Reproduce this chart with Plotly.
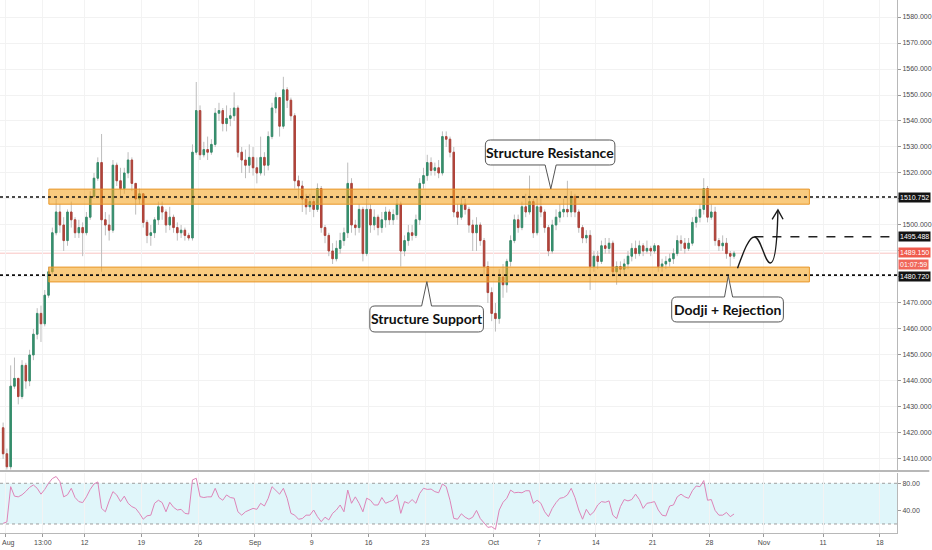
import plotly.graph_objects as go

# ---------------- data (XAU/USD) ----------------
first_open = 1422
closes = [1412, 1407, 1438, 1441, 1434, 1446, 1440, 1450, 1458, 1466,
          1462, 1473, 1482, 1497, 1505, 1500, 1494, 1505, 1502, 1497,
          1499, 1497, 1503, 1511, 1518, 1524, 1502, 1500, 1498, 1523,
          1517, 1514, 1520, 1525, 1516, 1510, 1512, 1501, 1496, 1497,
          1502, 1507, 1505, 1500, 1503, 1499, 1497, 1498, 1496, 1495,
          1528, 1544, 1527, 1529, 1528, 1531, 1543, 1544, 1539, 1541,
          1542, 1545, 1528, 1525, 1523, 1526, 1522, 1520, 1526, 1523,
          1534, 1545, 1549, 1538, 1552, 1548, 1542, 1517, 1515, 1510,
          1507, 1509, 1506, 1514, 1499, 1496, 1490, 1487, 1491, 1494,
          1497, 1516, 1500, 1499, 1506, 1489, 1506, 1500, 1503, 1499,
          1502, 1505, 1502, 1504, 1508, 1490, 1494, 1497, 1496, 1502,
          1516, 1519, 1524, 1521, 1522, 1520, 1534, 1533, 1528, 1505,
          1503, 1508, 1506, 1500, 1497, 1500, 1494, 1484, 1474, 1466,
          1464, 1480, 1477, 1486, 1494, 1502, 1499, 1507, 1505, 1509,
          1497, 1507, 1505, 1499, 1490, 1500, 1503, 1505, 1506, 1505,
          1511, 1505, 1499, 1495, 1496, 1484, 1488, 1486, 1492, 1491,
          1493, 1482, 1484, 1483, 1485, 1488, 1491, 1489, 1492, 1490,
          1491, 1490, 1492, 1484, 1485, 1486, 1487, 1489, 1494, 1493,
          1491, 1493, 1501, 1503, 1506, 1514, 1503, 1505, 1494, 1492,
          1493, 1489, 1488, 1489.15]
highs = [1424, 1414, 1446, 1449, 1440, 1448, 1447, 1452, 1460, 1468,
         1469, 1475, 1484, 1499, 1510, 1508, 1503, 1506, 1509, 1503,
         1502, 1501, 1505, 1513, 1520, 1526, 1535, 1505, 1504, 1525,
         1524, 1522, 1522, 1528, 1526, 1516, 1514, 1512, 1502, 1500,
         1503, 1509, 1509, 1506, 1507, 1504, 1501, 1500, 1499, 1497,
         1531, 1555, 1546, 1532, 1534, 1533, 1545, 1547, 1545, 1546,
         1545, 1551, 1546, 1530, 1529, 1531, 1530, 1526, 1534, 1528,
         1536, 1547, 1551, 1549, 1557, 1553, 1549, 1543, 1519, 1517,
         1512, 1512, 1510, 1516, 1515, 1500, 1497, 1493, 1494, 1497,
         1499, 1524, 1518, 1502, 1508, 1507, 1510, 1508, 1506, 1504,
         1505, 1507, 1506, 1506, 1510, 1509, 1496, 1500, 1500, 1504,
         1518, 1522, 1527, 1526, 1524, 1525, 1536, 1536, 1534, 1530,
         1508, 1511, 1510, 1507, 1502, 1503, 1501, 1495, 1486, 1476,
         1470, 1483, 1485, 1487, 1496, 1504, 1504, 1509, 1512, 1519,
         1510, 1511, 1512, 1506, 1500, 1502, 1506, 1508, 1510, 1517,
         1513, 1512, 1506, 1500, 1498, 1498, 1490, 1490, 1494, 1495,
         1495, 1494, 1486, 1486, 1487, 1490, 1493, 1494, 1494, 1493,
         1494, 1492, 1493, 1492, 1487, 1488, 1489, 1491, 1496, 1496,
         1495, 1495, 1503, 1506, 1508, 1518, 1515, 1508, 1507, 1495,
         1496, 1495, 1490, 1490]
lows = [1410, 1404.5, 1405, 1437, 1431, 1433, 1437, 1438, 1448, 1456,
        1455, 1461, 1472, 1481, 1496, 1497, 1490, 1492, 1499, 1495,
        1495, 1488, 1496, 1502, 1510, 1517, 1482, 1496, 1494, 1497,
        1515, 1511, 1512, 1518, 1513, 1504, 1508, 1499, 1493, 1492,
        1495, 1500, 1502, 1497, 1498, 1497, 1494, 1495, 1494, 1494,
        1494, 1527, 1525, 1526, 1525, 1527, 1530, 1540, 1536, 1536,
        1538, 1540, 1526, 1520, 1518, 1520, 1519, 1516, 1519, 1519,
        1521, 1533, 1543, 1534, 1537, 1545, 1540, 1514, 1510, 1505,
        1504, 1505, 1503, 1505, 1497, 1493, 1488, 1485, 1486, 1489,
        1492, 1495, 1497, 1496, 1497, 1486, 1488, 1497, 1498, 1496,
        1497, 1499, 1500, 1500, 1502, 1484, 1488, 1492, 1494, 1495,
        1500, 1514, 1517, 1519, 1519, 1518, 1519, 1530, 1526, 1503,
        1500, 1502, 1504, 1497, 1490, 1490, 1492, 1481, 1470, 1463,
        1459, 1462, 1472, 1474, 1484, 1493, 1497, 1498, 1503, 1504,
        1495, 1496, 1503, 1497, 1488, 1489, 1498, 1501, 1503, 1503,
        1503, 1503, 1497, 1493, 1493, 1475, 1482, 1483, 1485, 1489,
        1489, 1480, 1477, 1480, 1481, 1483, 1486, 1487, 1488, 1488,
        1489, 1488, 1489, 1482, 1482, 1483, 1484, 1485, 1488, 1490,
        1489, 1490, 1492, 1499, 1501, 1504, 1501, 1502, 1492, 1490,
        1490, 1487, 1484, 1487]
rsi = [21, 23, 75, 61, 60, 63, 68, 74, 77.5, 72.6,
       64, 71, 80, 87, 90, 82.5, 60, 63, 72.6, 59,
       53, 51.5, 60, 71, 79, 82, 43, 38, 54, 67.7,
       62.8, 53, 61, 50.5, 45.6, 43, 35.7, 27, 32, 33,
       50.5, 55, 51.5, 38, 52, 44.6, 40.6, 41.6, 35.7, 34.7,
       85, 87.4, 60.3, 59, 60, 60, 72.6, 59, 55, 62.8,
       59, 58, 38, 33, 38, 40.6, 43, 41.6, 50.5, 46.5,
       57.9, 75, 70, 64, 72.6, 58, 35.7, 33, 27, 28,
       33, 33, 40.6, 30.8, 23.4, 30, 26, 35.7, 40.6, 48,
       38, 70, 50.5, 60, 50.5, 38, 58, 55, 48, 48,
       59, 50.5, 53, 55, 63, 35.7, 53, 50.5, 56, 50.5,
       65, 72.6, 71, 71.5, 67.7, 66, 79, 75, 55, 28.3,
       27, 35, 30, 27, 30, 40, 28, 21, 15, 16,
       12, 40.6, 52, 57.9, 70, 66, 66.7, 66, 69, 69,
       50.5, 55, 50.5, 38, 30.8, 43, 51.5, 57.9, 59, 62.8,
       72.6, 59, 40.6, 27, 41.6, 33, 38, 48, 53, 52,
       54, 33, 28, 45.6, 56, 54, 56, 64, 56, 43,
       50.5, 51.5, 53, 40.6, 33, 31.8, 46.5, 48, 60, 64,
       60, 57.9, 69, 76, 75, 84, 55, 56, 40, 33,
       33, 37, 30.8, 34.7]

# key levels
resistance_level = 1510.752
support_level = 1480.720
target_level = 1495.488
last_price = 1489.15
timer_text = "01:07:59"

# time axis (trading-day index, 0 = 1 Aug)
date_tickvals = [0, 3.33, 7, 12, 17, 22, 27, 32, 37, 43, 47, 52, 57, 62, 66.8, 72, 77]
date_ticktext = ["", "13:00", "12", "19", "26", "Sep", "9", "16", "23",
                 "Oct", "7", "14", "21", "28", "Nov", "11", "18"]
first_month_label = "Aug"
price_ticks = list(range(1410, 1590, 10))
hidden_price_ticks = [1480, 1490, 1510]   # covered by the price tags in the reference

# ---------------- derived ----------------
n = len(closes)
xs = [(i - 0.5) / 3 for i in range(n)]
opens = [first_open] + closes[:-1]
hi = [max(h, o, c) for h, o, c in zip(highs, opens, closes)]
lo = [min(l, o, c) for l, o, c in zip(lows, opens, closes)]
body_hi = [max(o, c) for o, c in zip(opens, closes)]
body_lo = [min(o, c) for o, c in zip(opens, closes)]
price_ticktext = ["" if v in hidden_price_ticks else f"{v:.3f}" for v in price_ticks]

GREEN = "#358e6c"
RED = "#b0433a"
WICK = "#bdbdbd"
X_MIN, X_MAX = -0.44, 78.51

fig = go.Figure()

# wicks
fig.add_trace(go.Candlestick(
    x=xs, open=opens, high=hi, low=lo, close=closes,
    increasing=dict(line=dict(color=WICK, width=1), fillcolor=WICK),
    decreasing=dict(line=dict(color=WICK, width=1), fillcolor=WICK),
    whiskerwidth=0, hoverinfo="skip", showlegend=False, xaxis="x", yaxis="y"))
# bodies
fig.add_trace(go.Candlestick(
    x=xs, open=opens, high=body_hi, low=body_lo, close=closes,
    increasing=dict(line=dict(color=GREEN, width=1), fillcolor=GREEN),
    decreasing=dict(line=dict(color=RED, width=1), fillcolor=RED),
    whiskerwidth=0, hoverinfo="skip", showlegend=False, xaxis="x", yaxis="y"))

# RSI
fig.add_trace(go.Scatter(x=xs, y=rsi, mode="lines",
                         line=dict(color="#dd84b8", width=1),
                         hoverinfo="skip", showlegend=False, xaxis="x", yaxis="y2"))

# ---------------- drawings ----------------
band_x0, band_x1 = 3.86, 70.8
res_band = (1508.0, 1513.8)
sup_band = (1478.1, 1483.8)

# curved projection path and arrow head
curve_path = ("M 64.47,1483.35 C 64.95,1489 65.45,1495.4 65.96,1495.38 "
              "C 66.55,1495.4 66.85,1485.4 67.37,1485.38 "
              "C 67.8,1485.4 67.97,1494 68.03,1505.6")
arrow_path = "M 67.52,1502.2 L 68.03,1505.77 L 68.48,1502.2"

shapes = []
# RSI band
shapes.append(dict(type="rect", xref="paper", x0=0, x1=1, yref="y2", y0=20, y1=80,
                   fillcolor="#e0f6fa", line=dict(width=0), layer="below"))
for lv in (80, 20):
    shapes.append(dict(type="line", xref="paper", x0=0, x1=1, yref="y2", y0=lv, y1=lv,
                       line=dict(color="#9e9e9e", width=1, dash="dot"), layer="below"))
# last price line
shapes.append(dict(type="line", xref="paper", x0=0, x1=1, yref="y", y0=last_price, y1=last_price,
                   line=dict(color="rgba(239,83,80,0.35)", width=1), layer="below"))
# orange zones
for y0, y1 in (res_band, sup_band):
    shapes.append(dict(type="rect", xref="x", x0=band_x0, x1=band_x1, yref="y", y0=y0, y1=y1,
                       fillcolor="rgba(245,166,35,0.58)", line=dict(color="#e8972a", width=1),
                       layer="above"))
# dotted key levels
for lv in (resistance_level, support_level):
    shapes.append(dict(type="line", xref="paper", x0=0, x1=1, yref="y", y0=lv, y1=lv,
                       line=dict(color="#111111", width=1.6, dash="dot"), layer="above"))
# dashed target level
shapes.append(dict(type="line", xref="x", x0=65.96, x1=X_MAX, yref="y", y0=target_level, y1=target_level,
                   line=dict(color="#222222", width=1.5, dash="dash"), layer="above"))
shapes.append(dict(type="path", xref="x", yref="y", path=curve_path,
                   line=dict(color="#1a1a1a", width=1.4), layer="above"))
shapes.append(dict(type="path", xref="x", yref="y", path=arrow_path,
                   line=dict(color="#1a1a1a", width=1.4), layer="above"))


def callout(x0, x1, yb, yt, nl, nr, tip, top_notch):
    rx, ry = 0.45, 1.9
    tx, ty = tip
    p = f"M {x0+rx},{yt} "
    if top_notch:
        p += f"L {nl},{yt} L {tx},{ty} L {nr},{yt} "
    p += f"L {x1-rx},{yt} Q {x1},{yt} {x1},{yt-ry} L {x1},{yb+ry} Q {x1},{yb} {x1-rx},{yb} "
    if not top_notch:
        p += f"L {nr},{yb} L {tx},{ty} L {nl},{yb} "
    p += f"L {x0+rx},{yb} Q {x0},{yb} {x0},{yb+ry} L {x0},{yt-ry} Q {x0},{yt} {x0+rx},{yt} Z"
    return dict(type="path", xref="x", yref="y", path=p, fillcolor="white",
                line=dict(color="#555555", width=1), layer="above")


callouts = [
    ("Structure Resistance", 42.28, 53.68, 1523.08, 1532.69, 47.54, 48.51, (48.04, 1513.9), False),
    ("Structure Support", 32.11, 42.11, 1458.85, 1468.85, 36.67, 37.54, (37.13, 1478.2), True),
    ("Dodji + Rejection", 58.68, 68.51, 1462.69, 1472.31, 63.33, 64.04, (63.66, 1480.4), True),
]
annotations = []
for text, x0, x1, yb, yt, nl, nr, tip, top in callouts:
    shapes.append(callout(x0, x1, yb, yt, nl, nr, tip, top))
    annotations.append(dict(x=(x0 + x1) / 2, y=(yb + yt) / 2, xref="x", yref="y", text=text,
                            showarrow=False, font=dict(family="Lato", size=14, color="#111111",
                                                       weight="bold")))

# pane separator
shapes.append(dict(type="line", xref="paper", x0=0, x1=1.036, yref="paper", y0=0.1162, y1=0.1162,
                   line=dict(color="#b8b8b8", width=2)))

axis_font = dict(family="Liberation Sans", size=7, color="#4a4a4a")


def tag(y, text, bg, yshift=0):
    return dict(xref="paper", x=1, xanchor="left", yref="y", y=y, yshift=yshift, xshift=1,
                text=text, showarrow=False, bgcolor=bg, borderpad=1,
                font=dict(family="Liberation Sans", size=7, color="white"))


annotations += [
    tag(resistance_level, f"{resistance_level:.3f}", "#131313"),
    tag(target_level, f"{target_level:.3f}", "#131313"),
    tag(last_price, f"{last_price:.3f}", "#ef5a4c", yshift=1),
    tag(last_price, timer_text, "#f0675a", yshift=-11),
    tag(support_level, f"{support_level:.3f}", "#131313", yshift=-1),
    # first month label sits at the left edge of the time scale
    dict(xref="paper", x=0, xanchor="left", yref="paper", y=0, yanchor="top", yshift=-4,
         text=first_month_label, showarrow=False, font=axis_font),
]

fig.update_layout(
    width=932, height=550,
    margin=dict(l=0, r=32, t=0, b=17),
    paper_bgcolor="white", plot_bgcolor="white",
    showlegend=False, boxgap=0.45,
    shapes=shapes, annotations=annotations,
    xaxis=dict(domain=[0, 1], range=[X_MIN, X_MAX], anchor="y2",
               tickmode="array", tickvals=date_tickvals, ticktext=date_ticktext,
               tickfont=axis_font, ticks="outside", ticklen=3, tickcolor="#9a9a9a",
               showgrid=True, gridcolor="#f3f3f3", zeroline=False,
               showline=True, linecolor="#b8b8b8", linewidth=1,
               rangeslider=dict(visible=False), fixedrange=True),
    yaxis=dict(domain=[0.119, 1], range=[1405.92, 1586.54], side="right", anchor="x",
               tickmode="array", tickvals=price_ticks, ticktext=price_ticktext,
               tickfont=axis_font, ticks="outside", ticklen=3, tickcolor="#9a9a9a",
               showgrid=True, gridcolor="#f2f2f2", zeroline=False,
               showline=True, linecolor="#b8b8b8", linewidth=1),
    yaxis2=dict(domain=[0, 0.113], range=[6.7, 95.5], side="right", anchor="x",
                tickmode="array", tickvals=[40, 80], ticktext=["40.00", "80.00"],
                tickfont=axis_font, ticks="outside", ticklen=3, tickcolor="#9a9a9a",
                showgrid=False, zeroline=False,
                showline=True, linecolor="#b8b8b8", linewidth=1),
)

fig.write_html("out.html", config={"displayModeBar": False},
               post_script="document.body.style.margin='0';document.body.style.overflow='hidden';")
